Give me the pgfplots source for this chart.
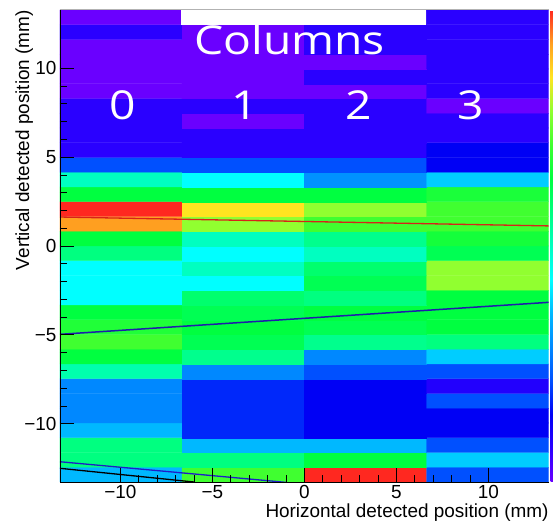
\documentclass[border=0pt]{standalone}
\usepackage{pgfplots}
\pgfplotsset{compat=1.18}
\usepackage{pgfplotstable}
\usepackage{fontspec}
\setmainfont{Liberation Sans}
\newfontfamily\colfont{Open Sans}

% cell centres (mm) and colour level, bottom row first
\pgfplotstableread{
x y c
-9.96 -12.865 5
-3.32 -12.865 10
3.32 -12.865 14
9.96 -12.865 3
-9.96 -12.035 8
-3.32 -12.035 8
3.32 -12.035 9
9.96 -12.035 5.3
-9.96 -11.205 8
-3.32 -11.205 5
3.32 -11.205 5
9.96 -11.205 3
-9.96 -10.375 5
-3.32 -10.375 2.5
3.32 -10.375 2
9.96 -10.375 2
-9.96 -9.545 4
-3.32 -9.545 2.5
3.32 -9.545 2
9.96 -9.545 2
-9.96 -8.715 4
-3.32 -8.715 2.5
3.32 -8.715 2
9.96 -8.715 3
-9.96 -7.885 4
-3.32 -7.885 2.5
3.32 -7.885 2
9.96 -7.885 1.2
-9.96 -7.055 7.3
-3.32 -7.055 4
3.32 -7.055 3
9.96 -7.055 3
-9.96 -6.225 9
-3.32 -6.225 7.8
3.32 -6.225 4
9.96 -6.225 5.3
-9.96 -5.395 10
-3.32 -5.395 8.7
3.32 -5.395 7.8
9.96 -5.395 8
-9.96 -4.565 9.5
-3.32 -4.565 9
3.32 -4.565 8.7
9.96 -4.565 9
-9.96 -3.735 9
-3.32 -3.735 8.7
3.32 -3.735 9
9.96 -3.735 9
-9.96 -2.905 6
-3.32 -2.905 8.3
3.32 -2.905 8
9.96 -2.905 9
-9.96 -2.075 6
-3.32 -2.075 6
3.32 -2.075 8.7
9.96 -2.075 11
-9.96 -1.245 6
-3.32 -1.245 7
3.32 -1.245 8.3
9.96 -1.245 11
-9.96 -0.415 8
-3.32 -0.415 6
3.32 -0.415 7
9.96 -0.415 8.7
-9.96 0.415 9
-3.32 0.415 7
3.32 0.415 7.8
9.96 0.415 9.3
-9.96 1.245 13
-3.32 1.245 11
3.32 1.245 10
9.96 1.245 10
-9.96 2.075 14
-3.32 2.075 12
3.32 2.075 11
9.96 2.075 10
-9.96 2.905 9
-3.32 2.905 9
3.32 2.905 9
9.96 2.905 9.4
-9.96 3.735 7
-3.32 3.735 6
3.32 3.735 4.2
9.96 3.735 5.3
-9.96 4.565 3
-3.32 4.565 3
3.32 4.565 3
9.96 4.565 2
-9.96 5.395 1
-3.32 5.395 1
3.32 5.395 1
9.96 5.395 2
-9.96 6.225 1
-3.32 6.225 1
3.32 6.225 1
9.96 6.225 1
-9.96 7.055 1
-3.32 7.055 0
3.32 7.055 1
9.96 7.055 1
-9.96 7.885 1
-3.32 7.885 1
3.32 7.885 1
9.96 7.885 0
-9.96 8.715 0
-3.32 8.715 0
3.32 8.715 0
9.96 8.715 1
-9.96 9.545 0
-3.32 9.545 0
3.32 9.545 1
9.96 9.545 1
-9.96 10.375 0
-3.32 10.375 0
3.32 10.375 0
9.96 10.375 1
-9.96 11.205 0
-3.32 11.205 0
3.32 11.205 1
9.96 11.205 1
-9.96 12.035 1
-3.32 12.035 0
3.32 12.035 1
9.96 12.035 1
-9.96 12.865 0
-3.32 12.865 0
3.32 12.865 1
9.96 12.865 1
}\heat

\begin{document}
\begin{tikzpicture}
\begin{axis}[
  at={(0,0)}, anchor=south west,
  scale only axis, width=488.7bp, height=472bp,
  xmin=-13.28, xmax=13.28, ymin=-13.28, ymax=13.28,
  enlargelimits=false, axis on top,
  axis x line*=bottom, axis y line*=left,
  colormap={root}{
    rgb255(0cm)=(106,0,255) rgb255(1cm)=(42,0,255) rgb255(2cm)=(0,0,245)
    rgb255(3cm)=(0,80,255) rgb255(4cm)=(0,136,255) rgb255(5cm)=(0,184,255)
    rgb255(6cm)=(0,255,255) rgb255(7cm)=(0,255,192) rgb255(8cm)=(0,255,128)
    rgb255(9cm)=(0,255,64) rgb255(10cm)=(64,255,48) rgb255(11cm)=(144,255,48)
    rgb255(12cm)=(255,228,32) rgb255(13cm)=(255,160,32) rgb255(14cm)=(255,40,32)},
  point meta min=0, point meta max=14,
  xtick={-10,-5,0,5,10}, xticklabels={−10,−5,0,5,10},
  ytick={-10,-5,0,5,10}, yticklabels={−10,−5,0,5,10},
  minor tick num=4, tick align=inside,
  major tick length=14bp, minor tick length=7bp,
  tick style={black, line width=0.8bp},
  axis line style={black, line width=0.8bp},
  tick label style={font=\fontsize{19}{22}\selectfont},
  colorbar,
  colorbar style={at={(parent axis.north east)}, anchor=north west,
    xshift=-6.5bp, width=14bp, ytick=\empty, axis line style={draw=none}},
]
\addplot[matrix plot*, mesh/cols=4, point meta=explicit]
  table[x=x, y=y, meta=c] {\heat};
\addplot[line width=1.3bp, color={rgb,255:red,215;green,35;blue,25}]
  coordinates {(-13.28,1.63) (13.28,1.13)};
\addplot[line width=1.5bp, color={rgb,255:red,30;green,30;blue,170}]
  coordinates {(-13.28,-4.97) (13.28,-3.17)};
\addplot[line width=1.3bp, color={rgb,255:red,30;green,30;blue,200}]
  coordinates {(-13.28,-12.14) (-1.0,-13.3)};
\addplot[line width=1.3bp, black]
  coordinates {(-13.28,-12.51) (-6.0,-13.28)};
\end{axis}
\fill[white] (121bp,457.2bp) rectangle (366bp,472bp);
\draw[gray!60, line width=1bp] (0bp,472bp) -- (488.7bp,472bp);
\begin{scope}[every node/.style={white, inner sep=0pt, anchor=base, xscale=1.16,
    font=\colfont\fontsize{40}{48}\selectfont}]
\node at (229.5bp,427bp) {Columns};
\node at (63bp,362bp) {0};
\node at (185bp,362bp) {1};
\node at (299bp,362bp) {2};
\node at (411bp,362bp) {3};
\end{scope}
\node[rotate=90, anchor=base east, inner sep=0pt, font=\fontsize{19}{22}\selectfont]
  at (-31bp,472bp) {Vertical detected position (mm)};
\node[anchor=base east, inner sep=0pt, font=\fontsize{19}{22}\selectfont]
  at (488.7bp,-35bp) {Horizontal detected position (mm)};
\pgfresetboundingbox
\path[use as bounding box] (-60bp,-40bp) rectangle (493bp,482bp);
\end{tikzpicture}
\end{document}
